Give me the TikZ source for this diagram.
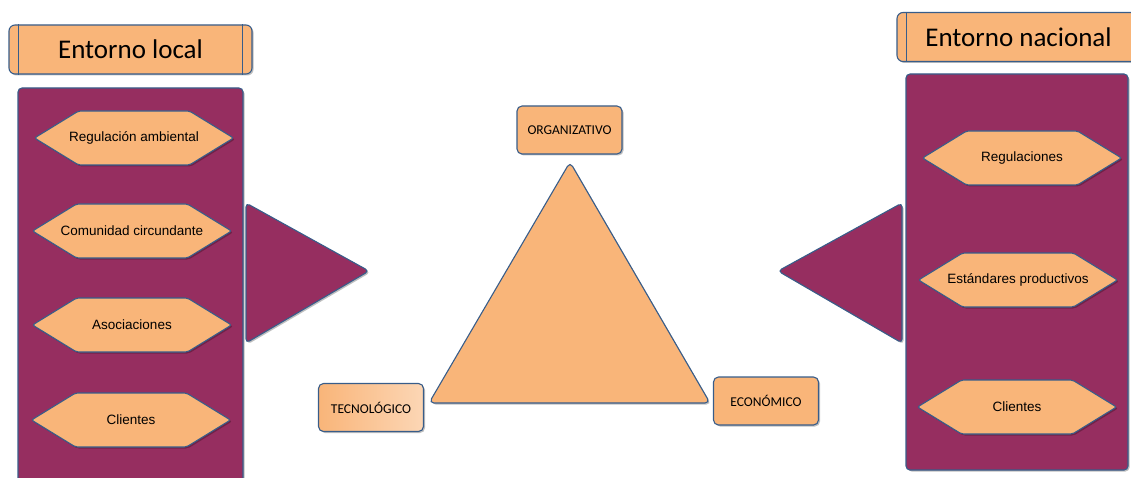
\documentclass[tikz,border=0pt]{standalone}
\usepackage{fontspec}
\setmainfont{Carlito}
\newfontfamily\arialfont{Liberation Sans}
\usetikzlibrary{shapes.symbols, shadows}
\definecolor{naranja}{RGB}{249,181,121}
\definecolor{morado}{RGB}{150,46,96}
\definecolor{borde}{RGB}{56,93,138}
\newcommand{\hextxt}[1]{\makebox[100pt]{#1}}
\tikzset{
    sombra/.style={drop shadow={shadow xshift=1.5pt, shadow yshift=-1.5pt, fill=black, opacity=0.25}},
    panel/.style={draw=borde, fill=morado, line width=1.1pt, rounded corners=4pt, sombra},
    titulo/.style={draw=borde, fill=naranja, line width=1.1pt, rounded corners=6pt, sombra, minimum width=243pt, minimum height=49pt, inner sep=0pt, font=\fontsize{27}{31}\selectfont},
    hexa/.style={signal, signal to=east and west, signal pointer angle=63, draw=borde, fill=naranja, line width=1.1pt, rounded corners=2pt, sombra, minimum width=199pt, minimum height=54pt, inner sep=0pt, font=\arialfont\fontsize{13.5}{16}\selectfont},
    vertice/.style={draw=borde, fill=naranja, line width=1.1pt, rounded corners=5pt, sombra, minimum width=105pt, minimum height=48pt, inner sep=0pt, font=\fontsize{13.5}{16}\selectfont},
    flecha/.style={draw=borde, fill=morado, line width=1.1pt, rounded corners=4pt, sombra},
    centro/.style={draw=borde, fill=naranja, line width=1.1pt, rounded corners=5pt, sombra}
}

\begin{document}
\begin{tikzpicture}[x=1pt, y=-1pt]
    \clip (0,0) rectangle (1131,478);
    % Entorno local
    \draw[panel] (18,88) rectangle (243,495);
    \node[titulo] (tlocal) at (130.5,49.5) {Entorno local};
    \draw[borde, line width=1.1pt] ([xshift=10pt]tlocal.north west) -- ([xshift=10pt]tlocal.south west);
    \draw[borde, line width=1.1pt] ([xshift=-10pt]tlocal.north east) -- ([xshift=-10pt]tlocal.south east);
    \node[hexa] (regamb) at (134,138) {\hextxt{Regulación ambiental}};
    \node[hexa] (comun) at (132,231) {\hextxt{Comunidad circundante}};
    \node[hexa] (asoc) at (132,325) {\hextxt{Asociaciones}};
    \node[hexa] (clil) at (131,420) {\hextxt{Clientes}};
    % Entorno nacional
    \draw[panel] (906,74) rectangle (1128,470);
    \node[titulo] (tnac) at (1018.5,37) {Entorno nacional};
    \draw[borde, line width=1.1pt] ([xshift=10pt]tnac.north west) -- ([xshift=10pt]tnac.south west);
    \node[hexa] (regul) at (1022,158) {\hextxt{Regulaciones}};
    \node[hexa] (estand) at (1018,280) {\hextxt{Estándares productivos}};
    \node[hexa] (clin) at (1017,407) {\hextxt{Clientes}};
    % Flechas triangulares
    \draw[flecha] (246,203) -- (369,271) -- (246,343) -- cycle;
    \draw[flecha] (902,203) -- (778,271) -- (902,343) -- cycle;
    % Triangulo central
    \draw[centro] (570,162) -- (710,403) -- (429,403) -- cycle;
    \node[vertice] (org) at (569.5,130) {ORGANIZATIVO};
    \node[vertice, left color=naranja, right color=naranja!55!white] (tec) at (371,407.5) {TECNOLÓGICO};
    \node[vertice] (eco) at (766,401) {ECONÓMICO};
\end{tikzpicture}
\end{document}
